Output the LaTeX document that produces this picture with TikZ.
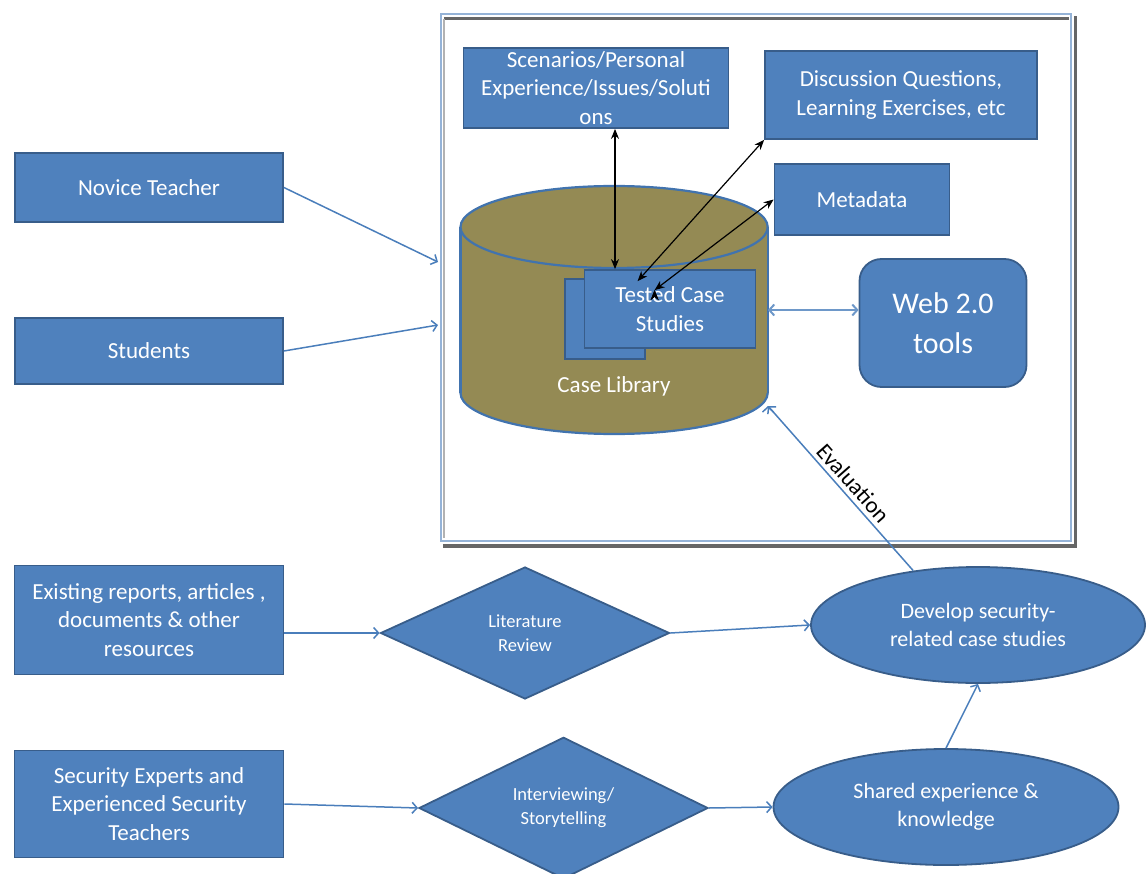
\documentclass[tikz,border=0pt]{standalone}
\usepackage{fontspec}
\setmainfont{Carlito}
\usepackage[dvipsnames]{xcolor}
\usetikzlibrary{arrows.meta,shapes.geometric}
\definecolor{boxblue}{HTML}{4F81BD}
\definecolor{boxline}{HTML}{385D8A}
\definecolor{cylolive}{HTML}{948A54}
\definecolor{cylline}{HTML}{4173AE}
\definecolor{frameblue}{HTML}{95B3D7}
\definecolor{flowblue}{HTML}{4A7EBB}

\begin{document}
\begin{tikzpicture}[x=1pt,y=-1pt,thick,
  main node/.style={rectangle,draw=boxline,line width=1.8pt,fill=boxblue,text=white,align=center,inner sep=2pt,font=\fontsize{23}{28.5}\selectfont},
  tool node/.style={main node,rounded corners=22pt,font=\fontsize{30}{40}\selectfont},
  step node/.style={main node,diamond,inner sep=0pt,font=\fontsize{18.5}{24}\selectfont},
  goal node/.style={main node,ellipse,inner sep=0pt,font=\fontsize{22}{28}\selectfont},
  flow/.style={draw=flowblue,line width=1.5pt,-{Straight Barb[length=5pt,width=11pt]}},
  flowback/.style={draw=flowblue,line width=1.5pt,{Straight Barb[length=5pt,width=11pt]}-},
  flowboth/.style={draw=flowblue!80,line width=2pt,{Straight Barb[length=5pt,width=11pt]}-{Straight Barb[length=5pt,width=11pt]}},
  link/.style={draw=black,line width=1.2pt,{Stealth[length=10pt,width=8pt]}-{Stealth[length=10pt,width=8pt]}}]
  \useasboundingbox (0,0) rectangle (1147,874);

  % frame round the library
  \node[draw=frameblue,line width=2.5pt,minimum width=630pt,minimum height=527pt,inner sep=0pt] (frame) at (756,277.5) {};
  \draw[gray!80!black,line width=3pt] ([xshift=4pt,yshift=-6pt]frame.north west) -- ([xshift=-3pt,yshift=-6pt]frame.north east);
  \draw[gray!60,line width=1.5pt] ([xshift=4pt,yshift=-6pt]frame.north west) -- ([xshift=4pt,yshift=4pt]frame.south west);
  \draw[gray!80!black,line width=3.5pt] ([xshift=3pt,yshift=-3.5pt]frame.south west) -- ([xshift=3pt,yshift=-3.5pt]frame.south east) -- ([xshift=3pt,yshift=-3pt]frame.north east);

  % case library
  \draw[draw=cylline,line width=2.2pt,fill=cylolive] (614.1,393) ellipse [x radius=153.6,y radius=41];
  \fill[cylolive] (460.5,227) rectangle (767.7,393);
  \draw[draw=cylline,line width=2.2pt] (460.5,227) -- (460.5,393) (767.7,227) -- (767.7,393);
  \draw[draw=cylline,line width=2.2pt,fill=cylolive] (614.1,227) ellipse [x radius=153.6,y radius=41];
  \node[minimum width=307pt,minimum height=250pt,inner sep=0pt] (cyl) at (614,310) {};
  \node[text=white,font=\fontsize{23}{28.5}\selectfont] (caselib) at (614,386) {Case Library};

  \node[main node,minimum width=80pt,minimum height=80pt] (tested back) at (605,319) {};
  \node[main node,minimum width=171pt,minimum height=78pt] (tested) at (670,309) {Tested Case\\Studies};
  \node[main node,minimum width=265pt,minimum height=80pt] (scen) at (596,88) {Scenarios/Personal\\Experience/Issues/Soluti\\ons};
  \node[main node,minimum width=272pt,minimum height=88pt] (disc) at (901,95) {Discussion Questions,\\Learning Exercises, etc};
  \node[main node,minimum width=175pt,minimum height=71pt] (meta) at (862,199.5) {Metadata};
  \node[tool node,minimum width=167pt,minimum height=128pt] (web) at (943,323) {Web 2.0\\tools};

  % users and sources
  \node[main node,minimum width=268pt,minimum height=69pt] (novice) at (149,187.5) {Novice Teacher};
  \node[main node,minimum width=268pt,minimum height=66pt] (students) at (149,351) {Students};
  \node[main node,minimum width=269pt,minimum height=109pt] (exist) at (149,620) {Existing reports, articles ,\\documents \& other\\resources};
  \node[main node,minimum width=269pt,minimum height=107pt] (secur) at (149,804) {Security Experts and\\Experienced Security\\Teachers};
  \node[step node,minimum width=289pt,minimum height=132pt] (lit) at (525,633) {Literature\\Review};
  \node[step node,minimum width=289pt,minimum height=130pt] (intv) at (563.5,808) {Interviewing/\\Storytelling};
  \node[goal node,minimum width=334pt,minimum height=116pt] (dev) at (978,625) {Develop security-\\related case studies};
  \node[goal node,minimum width=345pt,minimum height=116pt] (shared) at (946,807) {Shared experience \&\\knowledge};

  \coordinate (frNov) at (438,262);
  \coordinate (frStu) at (438,325);
  \coordinate (evEnd) at (768,406);

  \path[link]
    ([xshift=19pt]scen.south) edge ([xshift=-55pt]tested.north)
    ([shift={(54,12)}]tested.north west) edge (disc.south west)
    ([shift={(71,21)}]tested.north west) edge (meta.west)
    ;

  \path[flow]
    (novice.east) edge (frNov)
    (students.east) edge (frStu)
    (exist.east |- lit.west) edge (lit.west)
    (lit.east) edge (dev.west)
    (secur.east) edge (intv.west)
    (intv.east) edge (shared.west)
    (shared.north) edge (dev.south)
    (cyl.east) edge[flowboth] (cyl.east -| web.west)
    (evEnd) edge[flowback] node[sloped,above,pos=0.52,inner sep=4pt,font=\fontsize{23}{27}\selectfont] {Evaluation} (dev.140)
    ;
\end{tikzpicture}
\end{document}
